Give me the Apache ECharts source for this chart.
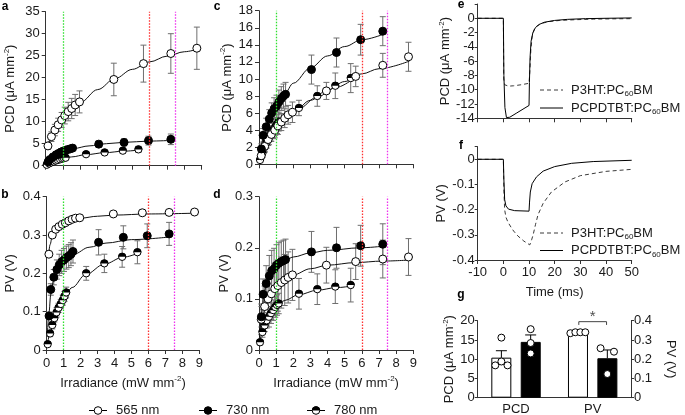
<!DOCTYPE html>
<html><head><meta charset="utf-8">
<script src="https://cdn.jsdelivr.net/npm/echarts/dist/echarts.min.js"></script>
<style>html,body{margin:0;padding:0;background:#fff}#c{width:685px;height:415px}</style>
</head><body><div id="c"></div>
<script>
// ---------- DATA ----------
const x565 = [0.13,0.33,0.53,0.72,0.92,1.1,1.3,1.5,1.7,1.95,3.93,5.64,7.22,8.72];
const x730 = [0.14,0.24,0.42,0.6,0.74,0.88,1.02,1.16,1.3,1.43,1.55,3.06,4.52,5.93,7.22];
const x780 = [0.06,0.2,0.33,0.45,0.58,0.7,0.83,0.95,1.05,1.15,2.33,3.4,4.45,5.35];

// panel a: PCD (P3HT device)
const a565 = [4.5,6.6,8.1,9.3,10.4,11.4,12.3,13.0,13.8,14.5,19.6,23.2,25.5,26.7];
const a565e = [0.8,1.1,1.3,1.5,1.7,1.9,2.1,2.3,2.4,2.5,3.7,4.2,4.5,4.8];
const a730 = [0.9,1.4,2.0,2.5,2.8,3.1,3.35,3.55,3.7,3.85,4.0,4.9,5.3,5.7,6.0];
const a730e = [0.2,0.2,0.3,0.3,0.3,0.3,0.4,0.4,0.4,0.4,0.5,0.7,0.8,1.0,1.2];
const a780 = [0.2,0.5,0.75,0.95,1.15,1.3,1.45,1.6,1.7,1.8,2.6,3.0,3.4,3.7];
const a780e = [0.1,0.1,0.15,0.15,0.2,0.2,0.2,0.2,0.25,0.25,0.4,0.4,0.6,0.7];
// panel b: PV (P3HT device)
const b565 = [0.25,0.30,0.315,0.322,0.328,0.332,0.337,0.341,0.344,0.345,0.355,0.358,0.359,0.36];
const b565e = [0.003,0.003,0.003,0.003,0.003,0.003,0.003,0.003,0.003,0.003,0.003,0.003,0.003,0.003];
const b730 = [0.089,0.158,0.19,0.21,0.222,0.23,0.235,0.241,0.245,0.25,0.257,0.281,0.294,0.298,0.303];
const b730e = [0.01,0.015,0.02,0.025,0.028,0.03,0.03,0.03,0.03,0.03,0.03,0.033,0.03,0.031,0.03];
const b780 = [0.015,0.043,0.065,0.083,0.098,0.11,0.12,0.13,0.14,0.15,0.2,0.226,0.243,0.255];
const b780e = [0.005,0.008,0.01,0.01,0.012,0.012,0.012,0.013,0.013,0.014,0.018,0.024,0.027,0.03];
// panel c: PCD (PCPDTBT device)
const c565 = [1.0,2.1,2.9,3.5,4.0,4.5,4.95,5.4,5.8,6.1,8.6,10.3,11.6,12.6];
const c565e = [0.4,0.6,0.7,0.8,0.9,1.0,1.0,1.1,1.1,1.2,1.0,1.2,1.4,1.7];
const c730 = [1.8,3.4,4.4,5.3,6.0,6.5,6.8,7.3,7.7,8.0,8.2,11.1,13.1,14.6,15.6];
const c730e = [0.6,0.8,1.0,1.1,1.2,1.3,1.3,1.4,1.4,1.4,1.4,1.7,1.7,1.8,1.7];
const c780 = [0.5,1.3,2.0,2.6,3.1,3.6,4.0,4.4,4.7,5.0,6.6,8.0,9.2,10.1];
const c780e = [0.3,0.5,0.6,0.7,0.8,0.9,1.0,1.0,1.1,1.1,0.9,1.2,1.5,1.7];
// panel d: PV (PCPDTBT device)
const d565 = [0.06,0.085,0.1,0.11,0.12,0.126,0.132,0.137,0.142,0.147,0.166,0.173,0.178,0.182];
const d565e = [0.03,0.04,0.045,0.05,0.05,0.05,0.05,0.05,0.05,0.05,0.035,0.035,0.037,0.036];
const d730 = [0.065,0.109,0.13,0.145,0.155,0.159,0.166,0.17,0.173,0.175,0.177,0.192,0.2,0.204,0.207];
const d730e = [0.02,0.03,0.035,0.04,0.04,0.04,0.04,0.04,0.04,0.04,0.04,0.04,0.04,0.04,0.04];
const d780 = [0.015,0.035,0.048,0.058,0.065,0.072,0.078,0.084,0.088,0.091,0.11,0.119,0.124,0.127];
const d780e = [0.005,0.01,0.012,0.015,0.02,0.02,0.02,0.02,0.02,0.02,0.03,0.03,0.033,0.033];

// fitted curves
const fitA565 = [[0.1,4.2],[0.5,7.8],[1,10.4],[1.5,12.6],[2,14.4],[3,17.3],[4,19.8],[5,21.9],[6,23.6],[7,24.9],[8,25.9],[8.78,26.5]];
const fitA730 = [[0.02,0.3],[0.2,1.3],[0.5,2.2],[1,3.2],[1.6,3.9],[2.5,4.5],[3.5,5.0],[4.5,5.3],[6,5.6],[7.27,5.75]];
const fitA780 = [[0.02,0.05],[0.3,0.7],[0.6,1.15],[1,1.65],[1.5,2.0],[2.3,2.5],[3.4,2.95],[4.5,3.3],[5.35,3.55]];
const fitB565 = [[0.1,0.24],[0.2,0.275],[0.33,0.298],[0.6,0.318],[1,0.332],[1.5,0.34],[2,0.344],[3,0.349],[4,0.352],[6,0.355],[8.78,0.357]];
const fitB730 = [[0.04,0.04],[0.14,0.1],[0.24,0.145],[0.42,0.185],[0.8,0.215],[1.2,0.236],[1.6,0.25],[2.5,0.268],[3.5,0.279],[5,0.288],[7.27,0.295]];
const fitB780 = [[0.03,0.01],[0.2,0.045],[0.5,0.09],[1,0.136],[1.5,0.163],[2.3,0.197],[3.4,0.224],[4.5,0.242],[5.35,0.252]];
const fitC565 = [[0.05,0.4],[0.5,2.8],[1,4.2],[1.5,5.2],[2,6.1],[3,7.5],[4,8.7],[5,9.7],[6,10.6],[7,11.2],[8.78,12.1]];
const fitC730 = [[0.05,1.0],[0.3,3.4],[0.6,5.2],[1,6.8],[1.5,8.3],[2,9.5],[3,11.3],[4,12.7],[5,13.8],[6,14.6],[7.2,15.2]];
const fitC780 = [[0.03,0.3],[0.3,1.9],[0.6,3.1],[1,4.3],[1.5,5.3],[2.3,6.5],[3.4,7.9],[4.5,9.0],[5.35,9.8]];
const fitD565 = [[0.03,0.03],[0.13,0.058],[0.5,0.1],[1,0.122],[2,0.147],[3,0.159],[4,0.166],[5.6,0.171],[7.2,0.174],[8.78,0.176]];
const fitD730 = [[0.02,0.02],[0.14,0.07],[0.3,0.115],[0.6,0.145],[1,0.163],[1.5,0.175],[2,0.182],[3,0.19],[4,0.195],[5.9,0.2],[7.2,0.203]];
const fitD780 = [[0.02,0.008],[0.2,0.035],[0.5,0.06],[1,0.086],[1.5,0.097],[2.3,0.108],[3.4,0.117],[4.5,0.122],[5.35,0.125]];

// illumination reference lines (mW mm-2)
const refLines = [1, 6, 7.5];

// panel e/f time traces (ms)
const eP3HT = [[-10,0],[0,0],[0.15,-8.5],[0.5,-9.3],[2,-9.5],[4,-9.45],[7,-9.3],[10,-9.1],[10.3,-7.5],[10.7,-4.5],[11.2,-2.6],[12,-1.6],[13,-1.1],[15,-0.7],[18,-0.45],[22,-0.3],[28,-0.2],[35,-0.12],[42,-0.08],[50,-0.05]];
const ePCPDTBT = [[-10,0],[0,0],[0.2,-8],[0.6,-12.5],[1.2,-13.9],[2.5,-13.85],[5,-13.3],[10,-12.2],[10.15,-9],[10.4,-5.5],[10.8,-3.2],[11.5,-2],[12.5,-1.3],[14,-0.85],[16,-0.55],[20,-0.3],[25,-0.15],[32,-0.05],[40,0],[50,0.05]];
const fP3HT = [[-10,0],[0,0],[0.2,-0.12],[0.5,-0.2],[1,-0.23],[1.8,-0.25],[3,-0.27],[4,-0.285],[5.7,-0.305],[8,-0.325],[10.3,-0.34],[11,-0.32],[11.6,-0.3],[12.5,-0.26],[13.5,-0.22],[15.5,-0.175],[18.7,-0.13],[24,-0.09],[30,-0.065],[40,-0.048],[50,-0.04]];
const fPCPDTBT = [[-10,0],[0,0],[0.2,-0.08],[0.5,-0.16],[1,-0.185],[2,-0.198],[4.4,-0.204],[10,-0.206],[10.2,-0.17],[10.5,-0.13],[11.2,-0.097],[12.9,-0.07],[15.5,-0.047],[20,-0.029],[26.6,-0.016],[35,-0.009],[50,-0.004]];

// panel g
const gCats = ['PCD','PV'];
const gPcdMean = [10.4, 14.5];       // P3HT, PCPDTBT (μA mm-2)
const gPcdSem = [1.8, 1.8];
const gPvMean = [0.335, 0.205];      // P3HT, PCPDTBT (V)
const gPvSem = [0.006, 0.043];
const gPcdDotsP3HT = [15.6, 8.4, 9.4, 8.4];
const gPcdDotsPCPDTBT = [17.8, 14.2, 11.5];
const gPvDotsP3HT = [0.335, 0.34, 0.34, 0.34];
const gPvDotsPCPDTBT = [0.257, 0.239, 0.123];

// ---------- CHART ----------
const F = "'Liberation Sans', Arial, Helvetica, sans-serif";
const TXT = '#1a1a1a', AX = '#333';
const rich = {
  t:{fontSize:13,fontFamily:F,color:TXT,lineHeight:16},
  s:{fontSize:8,fontFamily:F,color:TXT,verticalAlign:'top'},
  b:{fontSize:8,fontFamily:F,color:TXT,verticalAlign:'bottom'}
};
const pcdName = '{t|PCD (μA mm}{s|-2}{t|)}';
const pvName = '{t|PV (V)}';
const irrName = '{t|Irradiance (mW mm}{s|-2}{t|)}';

const chart = echarts.init(document.getElementById('c'), null, {renderer:'canvas'});

const grids = [
  {left:45.7, top:11.7, width:156, height:154},
  {left:46.7, top:196.7, width:152.6, height:153.3},
  {left:259, top:10.7, width:154.3, height:153.6},
  {left:259, top:196.7, width:154.3, height:153.3},
  {left:477.7, top:4, width:154, height:114.3},
  {left:477.7, top:146.7, width:154, height:113.3},
  {left:477.7, top:320.7, width:153.3, height:77},
  {left:477.7, top:320.7, width:153.3, height:77}
].map(g => Object.assign({containLabel:false, outerBoundsMode:'none'}, g));

function baseAxis(o) {
  return Object.assign({
    type:'value',
    axisLine:{show:true, onZero:false, lineStyle:{color:AX, width:1}},
    axisTick:{show:true, inside:false, length:4, lineStyle:{color:AX, width:1}},
    axisLabel:{show:true, color:TXT, fontSize:13, fontFamily:F, margin:6},
    splitLine:{show:false},
    nameTextStyle:{rich:rich}
  }, o);
}
function lbl(o){ return Object.assign({show:true, color:TXT, fontSize:13, fontFamily:F}, o); }

const xAxis = [
  baseAxis({gridIndex:0, min:0, max:9, interval:1, axisLabel:{show:false}}),
  baseAxis({gridIndex:1, min:0, max:9, interval:1, axisLabel:lbl({margin:7}), name:irrName, nameLocation:'middle', nameGap:25}),
  baseAxis({gridIndex:2, min:0, max:9, interval:1, axisLabel:{show:false}}),
  baseAxis({gridIndex:3, min:0, max:9, interval:1, axisLabel:lbl({margin:7}), name:irrName, nameLocation:'middle', nameGap:25}),
  baseAxis({gridIndex:4, min:-10, max:50, interval:10, axisLabel:{show:false}}),
  baseAxis({gridIndex:5, min:-10, max:50, interval:10, axisLabel:lbl({margin:6}), name:'{t|Time (ms)}', nameLocation:'middle', nameGap:24}),
  baseAxis({gridIndex:6, type:'category', data:gCats, axisTick:{show:false}, axisLabel:lbl({margin:5})}),
  baseAxis({gridIndex:6, min:-0.5, max:1.5, show:false}),
  baseAxis({gridIndex:7, type:'category', data:gCats, show:false}),
  baseAxis({gridIndex:7, min:-0.5, max:1.5, show:false})
];
const yAxis = [
  baseAxis({gridIndex:0, min:0, max:35, interval:5, name:pcdName, nameLocation:'middle', nameGap:27}),
  baseAxis({gridIndex:1, min:0, max:0.4, interval:0.1, name:pvName, nameLocation:'middle', nameGap:28}),
  baseAxis({gridIndex:2, min:0, max:18, interval:2, name:pcdName, nameLocation:'middle', nameGap:24}),
  baseAxis({gridIndex:3, min:0, max:0.3, interval:0.1, name:pvName, nameLocation:'middle', nameGap:25}),
  baseAxis({gridIndex:4, min:-14, max:2, interval:2, axisTick:{show:true,length:3,lineStyle:{color:AX}},
    axisLabel:lbl({margin:3, formatter:v => v > 0 ? '' : String(v)}), name:pcdName, nameLocation:'middle', nameGap:9}),
  baseAxis({gridIndex:5, min:-0.4, max:0.05, interval:0.1, axisTick:{show:true,length:3,lineStyle:{color:AX}},
    axisLabel:lbl({margin:3, formatter:v => v > 0.001 ? '' : String(+v.toFixed(2))}), name:pvName, nameLocation:'middle', nameGap:9}),
  baseAxis({gridIndex:6, min:0, max:20, interval:5, axisTick:{show:true,length:3,lineStyle:{color:AX}},
    axisLabel:lbl({margin:3}), name:pcdName, nameLocation:'middle', nameGap:9}),
  baseAxis({gridIndex:7, position:'right', min:0, max:0.4, interval:0.1, axisTick:{show:true,length:3,lineStyle:{color:AX}},
    axisLabel:lbl({margin:3}), name:pvName, nameLocation:'middle', nameGap:32, nameRotate:-90})
];

function pairs(xs, ys){ return xs.map((x,i)=>[x, ys[i]]); }
function triples(xs, ys, es){ return xs.map((x,i)=>[x, ys[i], es[i]]); }

function errSeries(gi, xs, ys, es) {
  return {
    type:'custom', xAxisIndex:gi, yAxisIndex:gi, silent:true, z:2, encode:{x:0,y:1},
    data: triples(xs, ys, es),
    renderItem:(p, api) => {
      const x = api.value(0), y = api.value(1), e = api.value(2);
      const t = api.coord([x, y + e]), b = api.coord([x, y - e]);
      const w = 3, st = {stroke:'#6e6e6e', lineWidth:1};
      return {type:'group', children:[
        {type:'line', shape:{x1:t[0],y1:t[1],x2:b[0],y2:b[1]}, style:st},
        {type:'line', shape:{x1:t[0]-w,y1:t[1],x2:t[0]+w,y2:t[1]}, style:st},
        {type:'line', shape:{x1:b[0]-w,y1:b[1],x2:b[0]+w,y2:b[1]}, style:st}
      ]};
    }
  };
}
function fitSeries(gi, data, withRefs) {
  const s = {type:'line', xAxisIndex:gi, yAxisIndex:gi, data:data, smooth:0.35, smoothMonotone:'x',
    symbol:'none', silent:true, z:3, lineStyle:{color:'#111', width:1}};
  if (withRefs) {
    const cols = ['#2ee02e', '#ff3030', '#ee30ee'];
    s.markLine = {symbol:'none', silent:true, animation:false, label:{show:false},
      lineStyle:{type:[1.5,1.5], width:1.3},
      data: refLines.map((v,i)=>({xAxis:v, lineStyle:{color:cols[i], type:[1.5,1.5], width:1.3}}))};
  }
  return s;
}
function dotSeries(gi, xs, ys, filled) {
  return {type:'scatter', xAxisIndex:gi, yAxisIndex:gi, data:pairs(xs, ys), symbol:'circle', symbolSize:8,
    silent:true, z:4, itemStyle:{color: filled ? '#000' : '#fff', borderColor:'#000', borderWidth:1, opacity:1}};
}
function halfSeries(gi, xs, ys) {
  return {type:'custom', xAxisIndex:gi, yAxisIndex:gi, silent:true, z:4, encode:{x:0,y:1},
    data: pairs(xs, ys),
    renderItem:(p, api) => {
      const c = api.coord([api.value(0), api.value(1)]), r = 3.6;
      return {type:'group', children:[
        {type:'circle', shape:{cx:c[0], cy:c[1], r:r}, style:{fill:'#fff', stroke:'#000', lineWidth:1}},
        {type:'sector', shape:{cx:c[0], cy:c[1], r0:0, r:r+0.4, startAngle:Math.PI, endAngle:2*Math.PI}, style:{fill:'#000'}}
      ]};
    }};
}

const series = [];
function panel(gi, y565, e565, y730, e730, y780, e780, f565, f730, f780) {
  series.push(errSeries(gi, x780, y780, e780));
  series.push(errSeries(gi, x565, y565, e565));
  series.push(errSeries(gi, x730, y730, e730));
  series.push(fitSeries(gi, f565, true));
  series.push(fitSeries(gi, f730, false));
  series.push(fitSeries(gi, f780, false));
  series.push(halfSeries(gi, x780, y780));
  series.push(dotSeries(gi, x565, y565, false));
  series.push(dotSeries(gi, x730, y730, true));
}
panel(0, a565, a565e, a730, a730e, a780, a780e, fitA565, fitA730, fitA780);
panel(1, b565, b565e, b730, b730e, b780, b780e, fitB565, fitB730, fitB780);
panel(2, c565, c565e, c730, c730e, c780, c780e, fitC565, fitC730, fitC780);
panel(3, d565, d565e, d730, d730e, d780, d780e, fitD565, fitD730, fitD780);

// e & f traces
const DASH = [4,3];
const dashStyle = {color:'#3a3a3a', width:1, type:DASH};
const solidStyle = {color:'#000', width:1};
[[4, eP3HT, ePCPDTBT],[5, fP3HT, fPCPDTBT]].forEach(([gi, d1, d2]) => {
  series.push({type:'line', name:'P3HT:PC60BM', xAxisIndex:gi, yAxisIndex:gi, data:d1, symbol:'none', silent:true, lineStyle:dashStyle, z:3});
  series.push({type:'line', name:'PCPDTBT:PC60BM', xAxisIndex:gi, yAxisIndex:gi, data:d2, symbol:'none', silent:true, lineStyle:solidStyle, z:3});
});

// g bars
const BW = 20, side = 0.191;
series.push({type:'bar', xAxisIndex:6, yAxisIndex:6, data:[gPcdMean[0], '-'], barWidth:BW, barGap:'47%', silent:true,
  itemStyle:{color:'#fff', borderColor:'#000', borderWidth:1}, z:2});
series.push({type:'bar', xAxisIndex:6, yAxisIndex:6, data:[gPcdMean[1], '-'], barWidth:BW, barGap:'47%', silent:true,
  itemStyle:{color:'#000', borderColor:'#000', borderWidth:1}, z:2});
series.push({type:'bar', xAxisIndex:8, yAxisIndex:7, data:['-', gPvMean[0]], barWidth:BW, barGap:'47%', silent:true,
  itemStyle:{color:'#fff', borderColor:'#000', borderWidth:1}, z:2});
series.push({type:'bar', xAxisIndex:8, yAxisIndex:7, data:['-', gPvMean[1]], barWidth:BW, barGap:'47%', silent:true,
  itemStyle:{color:'#000', borderColor:'#000', borderWidth:1}, z:2});

function gErr(xi, yi, cat, means, sems) {
  return {type:'custom', xAxisIndex:xi, yAxisIndex:yi, silent:true, z:3, encode:{x:0,y:1},
    data: means.map((m,j)=>[cat + (j===0?-side:side), m, sems[j]]),
    renderItem:(p, api) => {
      const x = api.value(0), m = api.value(1), s = api.value(2);
      const t = api.coord([x, m+s]), b = api.coord([x, m]);
      const w = 5.5, st = {stroke:'#000', lineWidth:1};
      return {type:'group', children:[
        {type:'line', shape:{x1:t[0],y1:t[1],x2:b[0],y2:b[1]}, style:st},
        {type:'line', shape:{x1:t[0]-w,y1:t[1],x2:t[0]+w,y2:t[1]}, style:st}
      ]};
    }};
}
series.push(gErr(7, 6, 0, gPcdMean, gPcdSem));
series.push(gErr(9, 7, 1, gPvMean, gPvSem));

const jitter4 = [0, -0.08, 0, 0.08];
const jitter4b = [-0.1, -0.035, 0.03, 0.095];
const jitter3 = [0, 0, 0];
const jitter3b = [-0.088, 0.087, 0];
function gDots(xi, yi, x0, vals, jit) {
  return {type:'scatter', xAxisIndex:xi, yAxisIndex:yi, silent:true, z:5, symbol:'circle', symbolSize:7,
    data: vals.map((v,i)=>[x0 + jit[i], v]),
    itemStyle:{color:'#fff', borderColor:'#000', borderWidth:1, opacity:1}};
}
series.push(gDots(7, 6, -side, gPcdDotsP3HT, jitter4));
series.push(gDots(7, 6, side, gPcdDotsPCPDTBT, jitter3));
series.push(gDots(9, 7, 1 - side, gPvDotsP3HT, jitter4b));
series.push(gDots(9, 7, 1 + side, gPvDotsPCPDTBT, jitter3b));

// significance bracket and star
const sigBracket = [[1-side+0.01,0.378],[1-side+0.01,0.395],[1+side-0.01,0.395],[1+side-0.01,0.378]];
series.push({type:'line', xAxisIndex:9, yAxisIndex:7, data:sigBracket, symbol:'none', silent:true, clip:false,
  lineStyle:{color:'#444', width:1}, z:5});
series.push({type:'scatter', xAxisIndex:9, yAxisIndex:7, data:[[1, 0.422]], symbolSize:2, clip:false, silent:true,
  itemStyle:{color:'rgba(0,0,0,0)'}, label:{show:true, position:'inside', formatter:'*', color:TXT, fontSize:15, fontFamily:F}, z:6});

// graphics: legends and panel letters
const graphic = [];
// e/f legends
const traceLegend = [
  {y:90, dash:true, text:'{t|P3HT:PC}{b|60}{t|BM}'},
  {y:108, dash:false, text:'{t|PCPDTBT:PC}{b|60}{t|BM}'},
  {y:233, dash:true, text:'{t|P3HT:PC}{b|60}{t|BM}'},
  {y:250.5, dash:false, text:'{t|PCPDTBT:PC}{b|60}{t|BM}'}
];
traceLegend.forEach(it => {
  graphic.push({type:'line', shape:{x1:540, y1:it.y, x2:563, y2:it.y}, silent:true,
    style:{stroke: it.dash ? '#3a3a3a' : '#000', lineWidth:1, lineDash: it.dash ? DASH : null}});
  graphic.push({type:'text', x:571, y:it.y, silent:true,
    style:{text:it.text, rich:rich, align:'left', verticalAlign:'middle', fill:TXT, font:'13px ' + F}});
});
// bottom legend
const legendItems = [
  {x1:89, x2:107, text:'565 nm', kind:'open'},
  {x1:199, x2:217, text:'730 nm', kind:'filled'},
  {x1:307, x2:325, text:'780 nm', kind:'half'}
];
const LY = 410.5;
legendItems.forEach(it => {
  const cx = (it.x1 + it.x2)/2;
  graphic.push({type:'line', shape:{x1:it.x1, y1:LY, x2:it.x2, y2:LY}, style:{stroke:'#000', lineWidth:1}, silent:true});
  graphic.push({type:'circle', shape:{cx:cx, cy:LY, r:3.8}, style:{fill: it.kind==='filled' ? '#000' : '#fff', stroke:'#000', lineWidth:1}, silent:true});
  if (it.kind === 'half') graphic.push({type:'sector', shape:{cx:cx, cy:LY, r0:0, r:4.2, startAngle:Math.PI, endAngle:2*Math.PI}, style:{fill:'#000'}, silent:true});
  graphic.push({type:'text', x:it.x2 + 9, y:LY, style:{text:it.text, fill:TXT, font:'13px ' + F, verticalAlign:'middle', align:'left'}, silent:true});
});
[['a',5,7],['b',5,195],['c',217,7],['d',217,195],['e',461,5],['f',461,146],['g',461,295]].forEach(([t,x,y]) => {
  graphic.push({type:'text', x:x, y:y, style:{text:t, fill:'#000', font:'bold 12px ' + F, align:'center', verticalAlign:'middle'}, silent:true});
});

chart.setOption({
  animation:false,
  backgroundColor:'#fff',
  textStyle:{fontFamily:F},
  grid:grids, xAxis:xAxis, yAxis:yAxis, series:series, graphic:graphic
});
</script></body></html>
